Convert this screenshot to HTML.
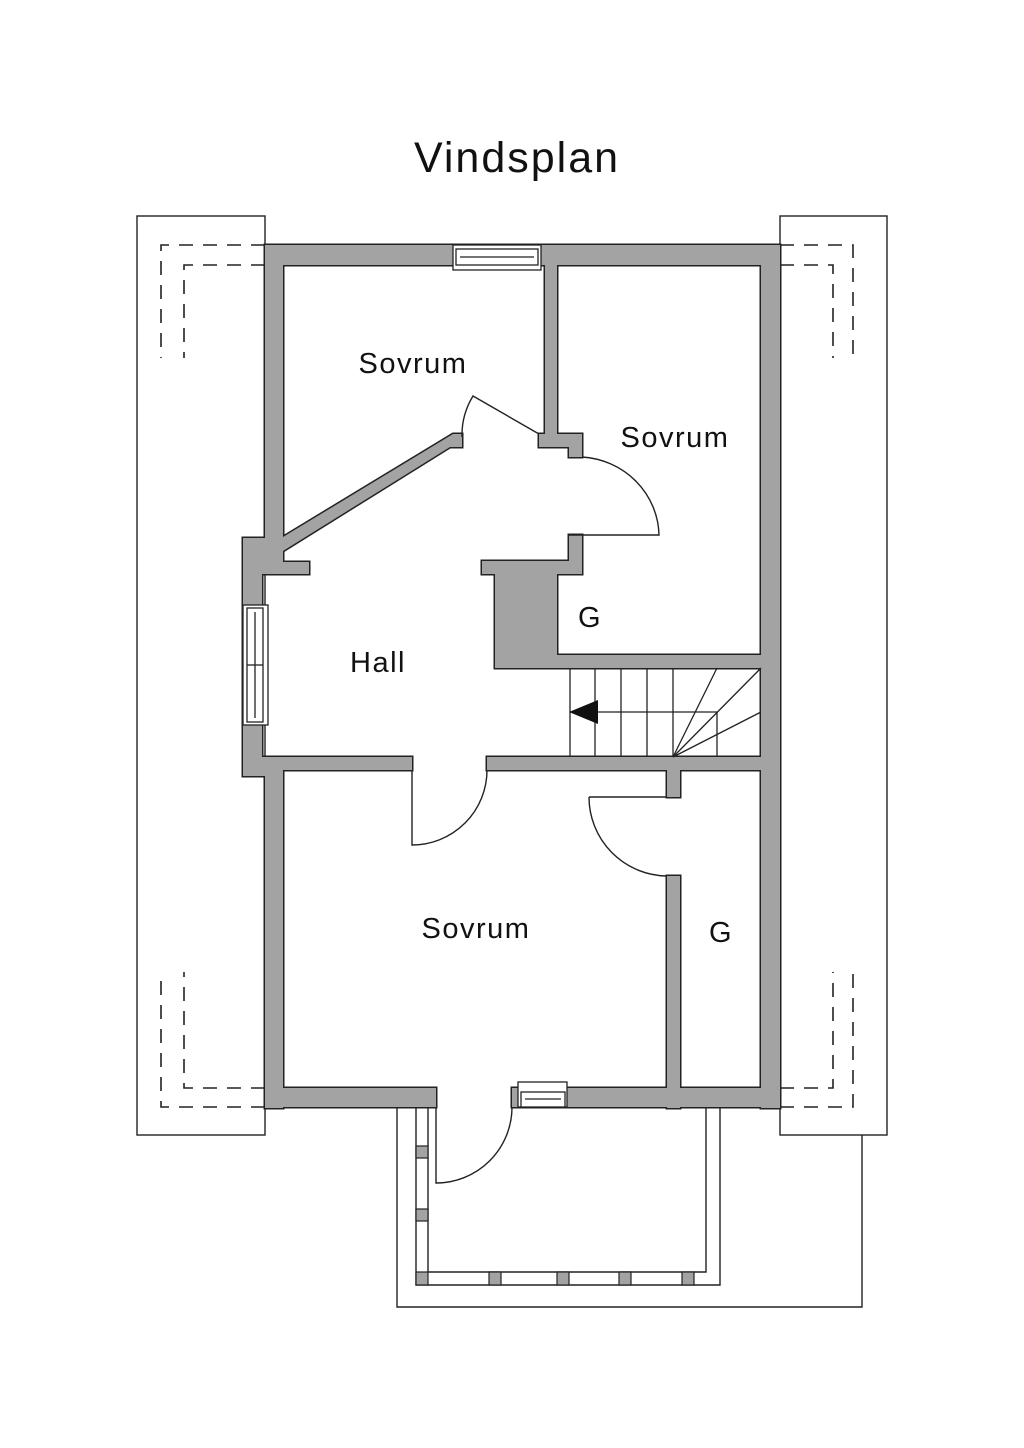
<!DOCTYPE html>
<html><head><meta charset="utf-8"><style>
html,body{margin:0;padding:0;background:#fff;}
svg{display:block;}
text{font-family:"Liberation Sans",sans-serif;fill:#111;}
</style></head><body>
<svg width="1024" height="1448" viewBox="0 0 1024 1448" xmlns="http://www.w3.org/2000/svg">
<rect width="1024" height="1448" fill="#fff"/>
<text x="517" y="172" font-size="43" letter-spacing="2" text-anchor="middle">Vindsplan</text>

<!-- side boxes -->
<g fill="none" stroke="#222" stroke-width="1.4">
<rect x="137" y="216" width="128" height="919"/>
<rect x="780" y="216" width="107" height="919"/>
<polyline points="397,1108 397,1307 862,1307 862,1135"/>
</g>
<g fill="none" stroke="#222" stroke-width="1.6" stroke-dasharray="14,10">
<polyline points="265,245 161,245 161,358"/>
<polyline points="265,265 184,265 184,358"/>
<polyline points="265,1107 161,1107 161,972"/>
<polyline points="265,1088 184,1088 184,972"/>
<polyline points="780,245 853,245 853,358"/>
<polyline points="780,265 833,265 833,358"/>
<polyline points="780,1107 853,1107 853,972"/>
<polyline points="780,1088 833,1088 833,972"/>
</g>

<!-- porch rail -->
<g fill="#fff" stroke="#222" stroke-width="1.4">
<polyline points="416,1108 416,1285 720,1285 720,1108" fill="none"/>
<polyline points="428,1108 428,1272 706,1272 706,1108" fill="none"/>
</g>
<g fill="#a3a3a3" stroke="#222" stroke-width="1.2">
<rect x="416" y="1146" width="12" height="12"/>
<rect x="416" y="1209" width="12" height="12"/>
<rect x="416" y="1272" width="12" height="13"/>
<rect x="489" y="1272" width="12" height="13"/>
<rect x="557" y="1272" width="12" height="13"/>
<rect x="619" y="1272" width="12" height="13"/>
<rect x="682" y="1272" width="12" height="13"/>
</g>

<defs>
<g id="walls">
<rect x="265" y="245" width="515" height="20"/>
<rect x="761" y="245" width="19" height="863"/>
<rect x="265" y="245" width="18" height="317"/>
<polygon points="265,538 283,538 283,562 309,562 309,574 262,574 262,757 412,757 412,770 283,770 283,776 243,776 243,538"/>
<rect x="265" y="757" width="18" height="351"/>
<polygon points="283,537 453,434 462,434 462,447 450,447 283,551"/>
<polygon points="545,265 557,265 557,434 582,434 582,457 569,457 569,447 539,447 539,434 545,434"/>
<polygon points="569,535 582,535 582,574 557,574 557,655 762,655 762,668 557,668 495,668 495,574 482,574 482,561 569,561"/>
<rect x="487" y="757" width="293" height="13"/>
<rect x="667" y="757" width="13" height="40"/>
<rect x="667" y="876" width="13" height="232"/>
<rect x="265" y="1088" width="171" height="19"/>
<rect x="512" y="1088" width="268" height="19"/>
</g>
</defs>
<use href="#walls" fill="#222" stroke="#222" stroke-width="3"/>
<use href="#walls" fill="#a3a3a3" stroke="none"/>

<!-- windows -->
<g fill="#fff" stroke="#222" stroke-width="1.3">
<rect x="453" y="245" width="88" height="25"/>
<rect x="456" y="249" width="82" height="16"/>
<line x1="460" y1="257" x2="534" y2="257"/>
<rect x="243" y="605" width="25" height="120"/>
<rect x="247" y="608" width="16" height="114"/>
<line x1="255" y1="612" x2="255" y2="718"/>
<line x1="247" y1="665" x2="263" y2="665"/>
<rect x="518" y="1082" width="49" height="25"/>
<rect x="521" y="1092" width="44" height="15"/>
<line x1="525" y1="1099" x2="561" y2="1099"/>
</g>

<!-- doors -->
<g fill="none" stroke="#222" stroke-width="1.4">
<path d="M539,434 L473,396 A75,75 0 0 0 462,437"/>
<path d="M582,457 A82,80 0 0 1 659,535 L569,535"/>
<path d="M487,770 A75,75 0 0 1 412,845 L412,770"/>
<path d="M589,797 L667,797 M589,797 A79,79 0 0 0 667,876"/>
<path d="M436,1107 L436,1183 A76,76 0 0 0 512,1107"/>
</g>

<!-- stairs -->
<g fill="none" stroke="#222" stroke-width="1.3">
<line x1="570" y1="668" x2="570" y2="757"/>
<line x1="595" y1="668" x2="595" y2="757"/>
<line x1="621" y1="668" x2="621" y2="757"/>
<line x1="647" y1="668" x2="647" y2="757"/>
<line x1="673" y1="668" x2="673" y2="757"/>
<line x1="717" y1="712" x2="717" y2="757"/>
<line x1="570" y1="712" x2="717" y2="712"/>
<line x1="673" y1="757" x2="717" y2="668"/>
<line x1="673" y1="757" x2="761" y2="668"/>
<line x1="673" y1="757" x2="761" y2="712"/>
</g>
<polygon points="569,712 598,700 598,724" fill="#111"/>

<!-- labels -->
<g font-size="29" letter-spacing="1.5">
<text x="413" y="373" text-anchor="middle">Sovrum</text>
<text x="675" y="447" text-anchor="middle">Sovrum</text>
<text x="590" y="627" text-anchor="middle">G</text>
<text x="378" y="672" text-anchor="middle">Hall</text>
<text x="476" y="938" text-anchor="middle">Sovrum</text>
<text x="721" y="942" text-anchor="middle">G</text>
</g>
</svg>
</body></html>
